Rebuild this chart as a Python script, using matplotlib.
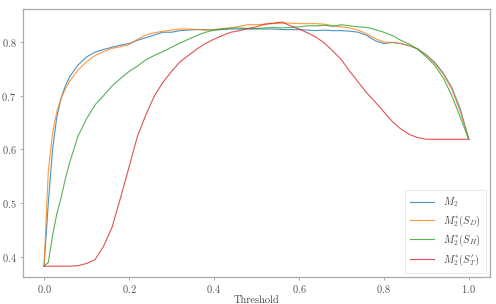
import matplotlib
matplotlib.use("Agg")
import matplotlib.pyplot as plt

# threshold grid and accuracy curves
thresholds = [0.00, 0.01, 0.02, 0.03, 0.04, 0.05, 0.06,
              0.08, 0.10, 0.12, 0.14, 0.16, 0.18, 0.20, 0.22, 0.24, 0.26, 0.28,
              0.30, 0.32, 0.34, 0.36, 0.38, 0.40, 0.42, 0.44, 0.46, 0.48,
              0.50, 0.52, 0.54, 0.56, 0.58, 0.60, 0.62, 0.64, 0.66, 0.68,
              0.70, 0.72, 0.74, 0.76, 0.78, 0.80, 0.82, 0.84, 0.86, 0.88,
              0.90, 0.92, 0.94, 0.96, 0.98, 1.00]

acc_m2 = [0.383, 0.500, 0.600, 0.660, 0.695, 0.718, 0.735,
          0.757, 0.772, 0.781, 0.786, 0.790, 0.794, 0.797, 0.803, 0.808, 0.813, 0.818,
          0.818, 0.821, 0.822, 0.823, 0.823, 0.822, 0.823, 0.824, 0.824, 0.824,
          0.824, 0.824, 0.824, 0.823, 0.823, 0.823, 0.822, 0.821, 0.822, 0.821,
          0.821, 0.820, 0.818, 0.812, 0.802, 0.797, 0.799, 0.797, 0.793, 0.787,
          0.776, 0.762, 0.742, 0.715, 0.675, 0.619]

acc_sd = [0.383, 0.560, 0.630, 0.670, 0.695, 0.712, 0.727,
          0.748, 0.763, 0.775, 0.782, 0.788, 0.791, 0.795, 0.805, 0.813, 0.817, 0.820,
          0.822, 0.824, 0.824, 0.823, 0.822, 0.823, 0.825, 0.826, 0.829, 0.832,
          0.832, 0.833, 0.834, 0.835, 0.835, 0.834, 0.834, 0.834, 0.833, 0.830,
          0.828, 0.826, 0.822, 0.815, 0.806, 0.800, 0.799, 0.797, 0.793, 0.787,
          0.775, 0.760, 0.740, 0.712, 0.670, 0.619]

acc_sh = [0.383, 0.390, 0.440, 0.480, 0.510, 0.545, 0.575,
          0.625, 0.657, 0.683, 0.700, 0.718, 0.732, 0.745, 0.755, 0.767, 0.775, 0.782,
          0.790, 0.798, 0.805, 0.812, 0.818, 0.822, 0.824, 0.826, 0.826, 0.825,
          0.825, 0.826, 0.827, 0.826, 0.827, 0.828, 0.830, 0.830, 0.831, 0.829,
          0.832, 0.830, 0.828, 0.827, 0.823, 0.818, 0.812, 0.803, 0.796, 0.786,
          0.772, 0.756, 0.733, 0.700, 0.660, 0.619]

acc_st = [0.383, 0.383, 0.383, 0.383, 0.383, 0.383, 0.383,
          0.384, 0.388, 0.395, 0.420, 0.455, 0.510, 0.567, 0.625, 0.665, 0.700, 0.725,
          0.745, 0.763, 0.775, 0.787, 0.797, 0.805, 0.812, 0.818, 0.821, 0.825,
          0.828, 0.833, 0.835, 0.837, 0.830, 0.824, 0.817, 0.809, 0.798, 0.783,
          0.767, 0.745, 0.725, 0.705, 0.688, 0.670, 0.652, 0.638, 0.628, 0.622,
          0.619, 0.619, 0.619, 0.619, 0.619, 0.619]

labels = [r"$M_2$", r"$M_2^{*}(S_D)$", r"$M_2^{*}(S_H)$", r"$M_2^{*}(S_T')$"]
series = [acc_m2, acc_sd, acc_sh, acc_st]
colors = ["tab:blue", "tab:orange", "tab:green", "tab:red"]

plt.rcParams["font.family"] = "serif"
plt.rcParams["font.serif"] = ["cmr10", "DejaVu Serif"]
plt.rcParams["mathtext.fontset"] = "cm"
plt.rcParams["axes.formatter.use_mathtext"] = True

fig = plt.figure(figsize=(4.96, 3.04), dpi=100)
ax = fig.add_axes([0.046, 0.089, 0.942, 0.881])

for vals, lab, col in zip(series, labels, colors):
    ax.plot(thresholds, vals, color=col, linewidth=0.8, alpha=0.8, label=lab)

ax.set_xticks([0.0, 0.2, 0.4, 0.6, 0.8, 1.0])
ax.set_yticks([0.4, 0.5, 0.6, 0.7, 0.8])
ax.set_ylim(0.363, 0.861)
ax.set_xlabel("Threshold", fontsize=7.5, color="#444444", labelpad=0)
ax.set_ylabel("Accuracy", fontsize=7.5, color="#444444", labelpad=2)
ax.tick_params(labelsize=7.5, colors="#555555", length=2.5, width=0.6,
               color="#999999", pad=2)
for sp in ax.spines.values():
    sp.set_color("#aaaaaa")
    sp.set_linewidth(0.9)

leg = ax.legend(loc="lower right", fontsize=7.5, frameon=True,
                handlelength=2.3, labelspacing=0.4, borderpad=0.5,
                borderaxespad=0.4)
leg.get_frame().set_edgecolor("#dddddd")
leg.get_frame().set_linewidth(0.6)
for t in leg.get_texts():
    t.set_color("#444444")

fig.savefig("out.png", dpi=100)
